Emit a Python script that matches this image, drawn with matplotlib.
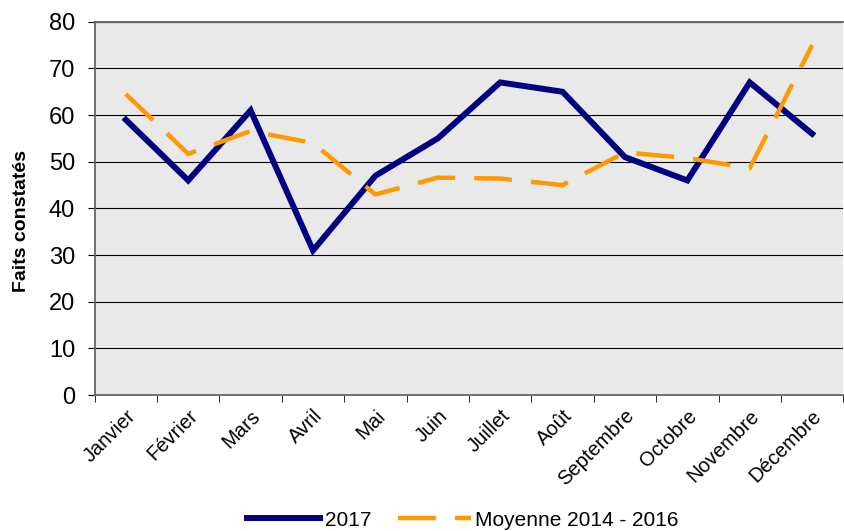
import numpy as np
import matplotlib.pyplot as plt

plt.rcParams['font.family'] = ['Liberation Sans', 'DejaVu Sans']

mois = ["Janvier", "Février", "Mars", "Avril", "Mai", "Juin", "Juillet",
        "Août", "Septembre", "Octobre", "Novembre", "Décembre"]
val_2017 = [59, 46, 61, 31, 47, 55, 67, 65, 51, 46, 67, 56]
moyenne = [64.5, 51.7, 56.6, 54, 43, 46.6, 46.4, 45, 52, 50.8, 48.6, 75]

fig = plt.figure(figsize=(8.45, 5.31), dpi=100)
ax = fig.add_axes([0.112, 0.256, 0.886, 0.703])
ax.set_facecolor("#e9e9e9")

x = np.arange(len(mois))
ax.plot(x, val_2017, color="#000080", lw=4.3, solid_joinstyle="miter", label="2017", zorder=3)
ax.plot(x, moyenne, color="#ff9900", lw=3.2, dashes=(8.5, 4.3), label="Moyenne 2014 - 2016", zorder=3)

ax.set_xlim(-0.5, 11.5)
ax.set_ylim(0, 80)
ax.set_yticks(np.arange(0, 81, 10))
ax.grid(axis="y", color="black", lw=0.8)
ax.set_axisbelow(True)
ax.set_xticks(np.arange(-0.5, 12, 1), minor=True)
ax.set_xticks(x)
ax.tick_params(axis="x", which="major", length=0, labelsize=14.5, pad=8)
ax.tick_params(axis="x", which="minor", length=5, direction="out")
ax.tick_params(axis="y", labelsize=17, length=5, pad=9)
ax.set_xticklabels(mois, rotation=45, ha="right", rotation_mode="anchor")
ax.spines["right"].set_visible(False)
for s in ["left", "bottom", "top"]:
    ax.spines[s].set_color("#666666")
    ax.spines[s].set_linewidth(1.3)
ax.set_ylabel("Faits constatés", fontsize=14, fontweight="bold")
ax.yaxis.set_label_coords(-0.086, 0.465)

fig.legend(loc="lower center", bbox_to_anchor=(0.548, -0.033), ncol=2, frameon=False,
           fontsize=15, handlelength=3.5, columnspacing=1.3, handletextpad=0.2)

fig.savefig("out.png", dpi=100)
